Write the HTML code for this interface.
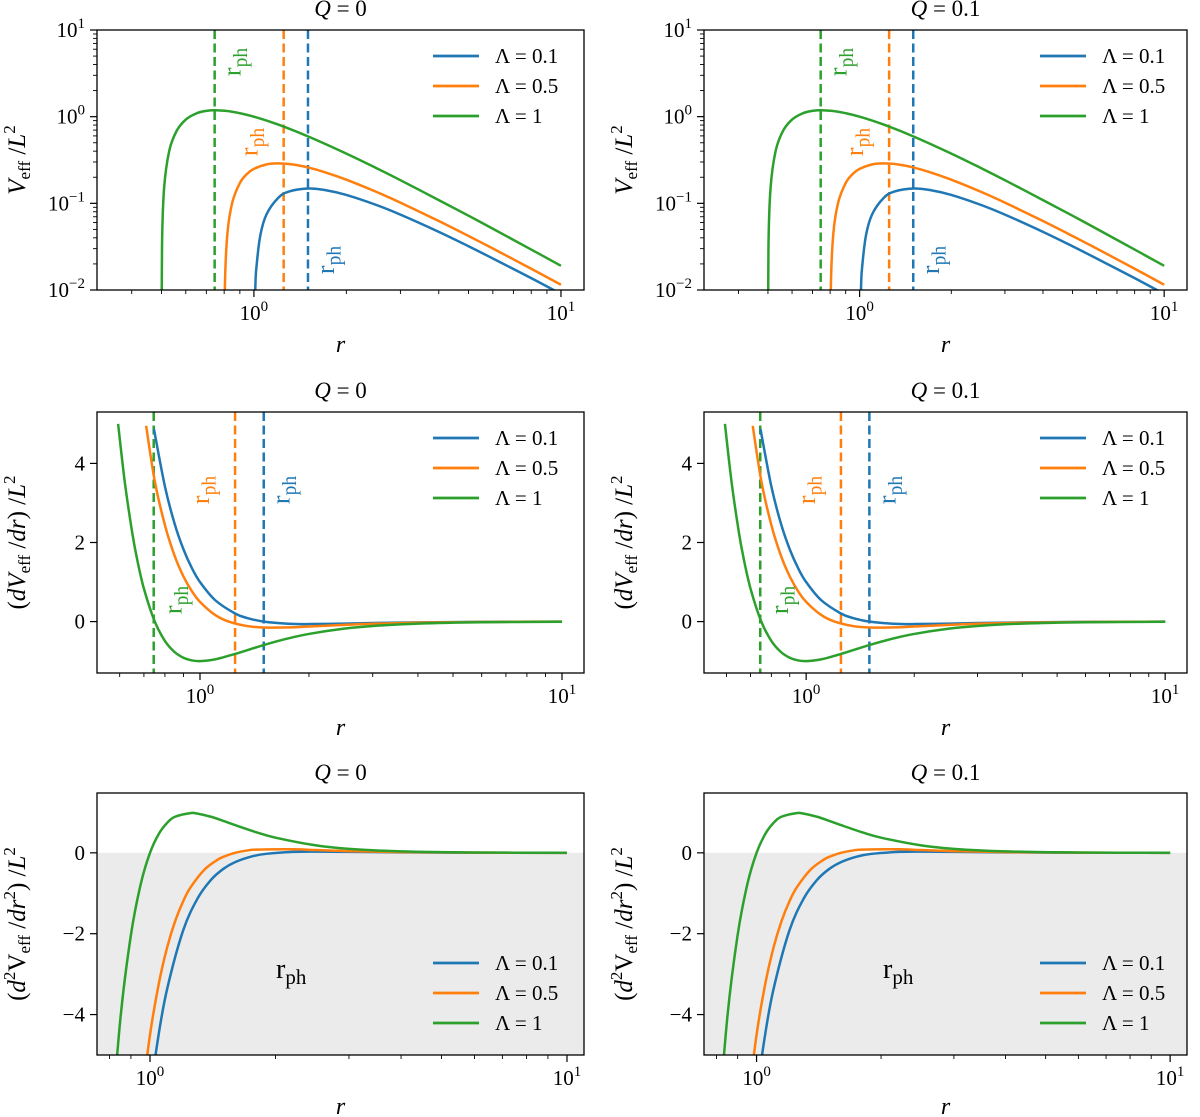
<!DOCTYPE html>
<html><head><meta charset="utf-8"><style>
html,body{margin:0;padding:0;background:#fff;}
svg{display:block;font-family:"Liberation Serif",serif;}
</style></head><body>
<svg id="fig" width="1200" height="1117" viewBox="0 0 1200 1117" xmlns="http://www.w3.org/2000/svg"></svg>
<script>
// ---- data (r samples and values, per series) ----
const seriesNames = ["Λ = 0.1", "Λ = 0.5", "Λ = 1"];
const seriesColors = ["#1f77b4", "#ff7f0e", "#2ca02c"];
const rph = [1.5, 1.25, 0.745];
const titles = ["0", "0.1"];

// Veff / L^2
const rV_blue = [1.0, 1.01, 1.02, 1.05, 1.1, 1.2, 1.3, 1.5, 1.7, 2, 2.5, 3, 4, 5, 6, 8, 10];
const V_blue = [0.001, 0.0097, 0.01885, 0.0432, 0.0751, 0.1157, 0.1366, 0.1481, 0.1425, 0.125, 0.096, 0.0741, 0.0469, 0.032, 0.0231, 0.0137, 0.009];
const rV_orange = [0.8, 0.805, 0.82, 0.85, 0.9, 0.95, 1.0, 1.1, 1.2, 1.35, 1.5, 1.7, 2, 2.5, 3, 4, 5, 6, 8, 10];
const V_orange = [0.001, 0.01198, 0.0453, 0.1018, 0.1715, 0.2188, 0.25, 0.2817, 0.2894, 0.2795, 0.2593, 0.229, 0.1875, 0.136, 0.1019, 0.0625, 0.042, 0.0301, 0.0176, 0.0115];
const rV_green = [0.5, 0.502, 0.51, 0.53, 0.56, 0.6, 0.65, 0.7, 0.75, 0.85, 1.0, 1.2, 1.5, 2, 2.5, 3, 4, 5, 6, 8, 10];
const V_green = [0.001, 0.0316, 0.1507, 0.403, 0.683, 0.926, 1.092, 1.166, 1.185, 1.14, 1.0, 0.81, 0.593, 0.375, 0.256, 0.185, 0.109, 0.072, 0.0509, 0.0293, 0.019];

// dVeff/dr / L^2
const rD_blue = [0.746, 0.8, 0.85, 0.9, 0.95, 1.0, 1.1, 1.25, 1.35, 1.5, 1.75, 2, 2.5, 3, 4, 6, 10];
const D_blue = [4.87, 3.418, 2.49, 1.829, 1.35, 1.0, 0.546, 0.205, 0.0903, 0.0, -0.0533, -0.0625, -0.0512, -0.037, -0.0195, -0.0069, -0.0017];
const rD_orange = [0.71, 0.75, 0.8, 0.85, 0.9, 0.95, 1.0, 1.1, 1.2, 1.35, 1.5, 1.75, 2, 2.5, 3, 4, 6, 10];
const D_orange = [4.95, 3.556, 2.441, 1.676, 1.143, 0.767, 0.5, 0.171, 0.0, -0.1129, -0.148, -0.1466, -0.125, -0.0832, -0.0556, -0.0273, -0.0093, -0.0022];
const rD_green = [0.594, 0.62, 0.65, 0.67, 0.7, 0.75, 0.8, 0.85, 0.9, 0.95, 1.0, 1.1, 1.25, 1.5, 1.75, 2, 2.5, 3, 4, 6, 10];
const D_green = [5.0, 3.52, 2.241, 1.588, 0.833, 0.0, -0.488, -0.766, -0.9145, -0.982, -1.0, -0.956, -0.819, -0.593, -0.4265, -0.3125, -0.179, -0.111, -0.0508, -0.0162, -0.0037];

// d2Veff/dr2 / L^2
const rS_blue = [0.97, 1.0, 1.05, 1.1, 1.2, 1.3, 1.4, 1.5, 1.6, 1.75, 1.9, 2.2, 2.5, 3, 4, 6, 10];
const S_blue = [-7.2, -6.0, -4.466, -3.353, -1.929, -1.131, -0.669, -0.395, -0.229, -0.0914, -0.0242, 0.0233, 0.0307, 0.0247, 0.0117, 0.0031, 0.0005];
const rS_orange = [0.95, 1.0, 1.05, 1.1, 1.15, 1.2, 1.25, 1.35, 1.45, 1.5, 1.6, 1.7, 1.8, 2.2, 2.5, 3, 4, 6, 10];
const S_orange = [-6.3, -4.5, -3.232, -2.328, -1.678, -1.206, -0.86, -0.418, -0.1755, -0.0988, 0.0, 0.0528, 0.0794, 0.0873, 0.0691, 0.0432, 0.0176, 0.0042, 0.0006];
const rS_green = [0.8, 0.85, 0.9, 0.95, 1.0, 1.05, 1.1, 1.15, 1.25, 1.3, 1.4, 1.5, 1.6, 1.8, 2, 2.5, 3, 4, 6, 10];
const S_green = [-7.32, -4.057, -2.032, -0.775, 0.0, 0.47, 0.745, 0.895, 0.983, 0.9696, 0.8925, 0.79, 0.686, 0.508, 0.375, 0.184, 0.0988, 0.0352, 0.0077, 0.001];

const NS = "http://www.w3.org/2000/svg";
const svg = document.getElementById("fig");
function mk(tag, attrs, parent) {
  const e = document.createElementNS(NS, tag);
  for (const k in attrs) e.setAttribute(k, attrs[k]);
  (parent || svg).appendChild(e);
  return e;
}
function tsp(parent, txt, attrs) {
  const t = document.createElementNS(NS, "tspan");
  for (const k in attrs || {}) t.setAttribute(k, attrs[k]);
  t.textContent = txt;
  parent.appendChild(t);
  return t;
}

const rows = [
  { key: "veff", y0: 30, y1: 290, ylog: true, ylim: [-2, 1], xlim: [-0.511, 1.075],
    rs: [rV_blue, rV_orange, rV_green], vs: [V_blue, V_orange, V_green], xlabY: 352, titleY: 16 },
  { key: "dveff", y0: 412, y1: 673, ylog: false, ylim: [-1.3, 5.3], xlim: [-0.2845, 1.0608], yticks: [0, 2, 4],
    rs: [rD_blue, rD_orange, rD_green], vs: [D_blue, D_orange, D_green], xlabY: 735, titleY: 398 },
  { key: "d2veff", y0: 793, y1: 1055, ylog: false, ylim: [-5, 1.48], xlim: [-0.1271, 1.0408], yticks: [-4, -2, 0],
    rs: [rS_blue, rS_orange, rS_green], vs: [S_blue, S_orange, S_green], xlabY: 1114, titleY: 780 }
];
const cols = [{ x0: 97, x1: 584 }, { x0: 704, x1: 1187 }];

function pathFrom(pts) {
  let d = "M" + pts[0][0].toFixed(2) + "," + pts[0][1].toFixed(2);
  for (let i = 0; i < pts.length - 1; i++) {
    const p0 = pts[Math.max(0, i - 1)], p1 = pts[i], p2 = pts[i + 1], p3 = pts[Math.min(pts.length - 1, i + 2)];
    const c1 = [p1[0] + (p2[0] - p0[0]) / 6, p1[1] + (p2[1] - p0[1]) / 6];
    const c2 = [p2[0] - (p3[0] - p1[0]) / 6, p2[1] - (p3[1] - p1[1]) / 6];
    d += " C" + c1[0].toFixed(2) + "," + c1[1].toFixed(2) + " " + c2[0].toFixed(2) + "," + c2[1].toFixed(2) + " " + p2[0].toFixed(2) + "," + p2[1].toFixed(2);
  }
  return d;
}

function rphLabel(g, x, y, color, size) {
  const t = mk("text", { x: x, y: y, fill: color, "font-size": size, "text-anchor": "middle",
    transform: "rotate(-90 " + x + " " + y + ")" }, g);
  
  
  tsp(t, "r");
  tsp(t, "ph", { "font-size": size * 0.75, dy: size * 0.25 });
  return t;
}

rows.forEach((row, ri) => {
  cols.forEach((col, ci) => {
    const g = mk("g", {});
    
    
    const X = r => col.x0 + (Math.log10(r) - row.xlim[0]) / (row.xlim[1] - row.xlim[0]) * (col.x1 - col.x0);
    const Y = v => {
      const t = row.ylog ? Math.log10(Math.max(v, 1e-6)) : v;
      return row.y1 - (t - row.ylim[0]) / (row.ylim[1] - row.ylim[0]) * (row.y1 - row.y0);
    };
    const cid = "clip" + ri + ci;
    const cp = mk("clipPath", { id: cid }, g);
    mk("rect", { x: col.x0, y: row.y0, width: col.x1 - col.x0, height: row.y1 - row.y0 }, cp);

    if (ri === 2) {
      const sh = mk("rect", { x: col.x0, y: Y(0), width: col.x1 - col.x0, height: row.y1 - Y(0), fill: "#ebebeb" }, g);
      
      
    }

    for (let d = -1; d <= 1; d++) {
      for (let k = 1; k <= 9; k++) {
        const v = k * Math.pow(10, d);
        const lv = Math.log10(v);
        if (lv < row.xlim[0] || lv > row.xlim[1]) continue;
        const x = X(v);
        const major = k === 1;
        mk("line", { x1: x, x2: x, y1: row.y1, y2: row.y1 + (major ? 7 : 4), stroke: "#000", "stroke-width": major ? 1.2 : 0.9 }, g);
        if (major) {
          const t = mk("text", { x: x, y: row.y1 + 30, "font-size": 21, "text-anchor": "middle" }, g);
          
          
          tsp(t, "10");
          tsp(t, String(d).replace("-", "−"), { "font-size": 15, dy: -9 });
        }
      }
    }
    if (row.ylog) {
      for (let d = row.ylim[0]; d <= row.ylim[1]; d++) {
        for (let k = 1; k <= 9; k++) {
          const v = k * Math.pow(10, d);
          if (Math.log10(v) > row.ylim[1] + 1e-9) continue;
          const y = Y(v);
          const major = k === 1;
          mk("line", { x1: col.x0, x2: col.x0 - (major ? 7 : 4), y1: y, y2: y, stroke: "#000", "stroke-width": major ? 1.2 : 0.9 }, g);
          if (major) {
            const t = mk("text", { x: col.x0 - 12, y: y + 7, "font-size": 21, "text-anchor": "end" }, g);
            
            
            tsp(t, "10");
            tsp(t, String(d).replace("-", "−"), { "font-size": 15, dy: -9 });
          }
        }
      }
    } else {
      row.yticks.forEach(v => {
        const y = Y(v);
        mk("line", { x1: col.x0, x2: col.x0 - 7, y1: y, y2: y, stroke: "#000", "stroke-width": 1.2 }, g);
        const t = mk("text", { x: col.x0 - 12, y: y + 7, "font-size": 21, "text-anchor": "end" }, g);
        
        
        t.textContent = String(v).replace("-", "−");
      });
    }

    if (ri < 2) {
      rph.forEach((r, si) => {
        const x = X(r);
        const l = mk("line", { x1: x, x2: x, y1: row.y0, y2: row.y1, stroke: seriesColors[si], "stroke-width": 2.5, "stroke-dasharray": "9,4.5" }, g);
        
        
      });
    }

    row.rs.forEach((rArr, si) => {
      const pts = rArr.map((r, i) => [X(r), Y(row.vs[si][i])]);
      const p = mk("path", { d: pathFrom(pts), fill: "none", stroke: seriesColors[si], "stroke-width": 2.5, "clip-path": "url(#" + cid + ")", "stroke-linejoin": "round" }, g);
      
      
    });

    const fr = mk("rect", { x: col.x0, y: row.y0, width: col.x1 - col.x0, height: row.y1 - row.y0, fill: "none", stroke: "#000", "stroke-width": 1.3 }, g);
    
    

    if (ri === 0) {
      rphLabel(g, X(rph[2]) + 26, 62, seriesColors[2], 26);
      rphLabel(g, X(rph[1]) - 26, 142, seriesColors[1], 26);
      rphLabel(g, X(rph[0]) + 26, 260, seriesColors[0], 26);
    } else if (ri === 1) {
      rphLabel(g, X(rph[1]) - 26, 490, seriesColors[1], 26);
      rphLabel(g, X(rph[0]) + 26, 490, seriesColors[0], 26);
      rphLabel(g, X(rph[2]) + 28, 600, seriesColors[2], 26);
    } else {
      const t = mk("text", { x: col.x0 + 179, y: 978, "font-size": 28 }, g);
      
      
      tsp(t, "r");
      tsp(t, "ph", { "font-size": 21, dy: 6 });
    }

    const lg = mk("g", {}, g);
    
    
    const ly = [row.y0 + 26, row.y0 + 56, row.y0 + 86];
    const lys = ri === 2 ? [963, 993, 1023] : ly;
    seriesNames.forEach((nm, si) => {
      const y = lys[si];
      const ll = mk("line", { x1: col.x0 + 336, x2: col.x0 + 382, y1: y, y2: y, stroke: seriesColors[si], "stroke-width": 2.8 }, lg);
      
      
      const t = mk("text", { x: col.x0 + 398, y: y + 7, "font-size": 21 }, lg);
      
      
      t.textContent = nm;
    });

    const tt = mk("text", { x: (col.x0 + col.x1) / 2, y: row.titleY, "font-size": 23, "text-anchor": "middle" }, g);
    
    
    tsp(tt, "Q", { "font-style": "italic" });
    tsp(tt, " = " + titles[ci]);

    const xl = mk("text", { x: (col.x0 + col.x1) / 2, y: row.xlabY, "font-size": 24, "text-anchor": "middle", "font-style": "italic" }, g);
    
    
    xl.textContent = "r";

    const cy = (row.y0 + row.y1) / 2, lx = col.x0 - 72;
    const yl = mk("text", { x: lx, y: cy, "font-size": 25, "text-anchor": "middle", transform: "rotate(-90 " + lx + " " + cy + ")" }, g);
    
    
    if (ri === 0) {
      tsp(yl, "V", { "font-style": "italic" }); tsp(yl, "eff", { "font-size": 17, dy: 5 });
      tsp(yl, " /", { dy: -5 }); tsp(yl, "L", { "font-style": "italic" }); tsp(yl, "2", { "font-size": 17, dy: -10 });
    } else if (ri === 1) {
      tsp(yl, "("); tsp(yl, "dV", { "font-style": "italic" }); tsp(yl, "eff", { "font-size": 17, dy: 5 });
      tsp(yl, " /", { dy: -5 }); tsp(yl, "dr", { "font-style": "italic" }); tsp(yl, ") /");
      tsp(yl, "L", { "font-style": "italic" }); tsp(yl, "2", { "font-size": 17, dy: -10 });
    } else {
      tsp(yl, "("); tsp(yl, "d", { "font-style": "italic" }); tsp(yl, "2", { "font-size": 17, dy: -10 });
      tsp(yl, "V", { dy: 10 }); tsp(yl, "eff", { "font-size": 17, dy: 5 });
      tsp(yl, " /", { dy: -5 }); tsp(yl, "dr", { "font-style": "italic" }); tsp(yl, "2", { "font-size": 17, dy: -10 });
      tsp(yl, ") /", { dy: 10 }); tsp(yl, "L", { "font-style": "italic" }); tsp(yl, "2", { "font-size": 17, dy: -10 });
    }
  });
});
</script>
</body></html>
